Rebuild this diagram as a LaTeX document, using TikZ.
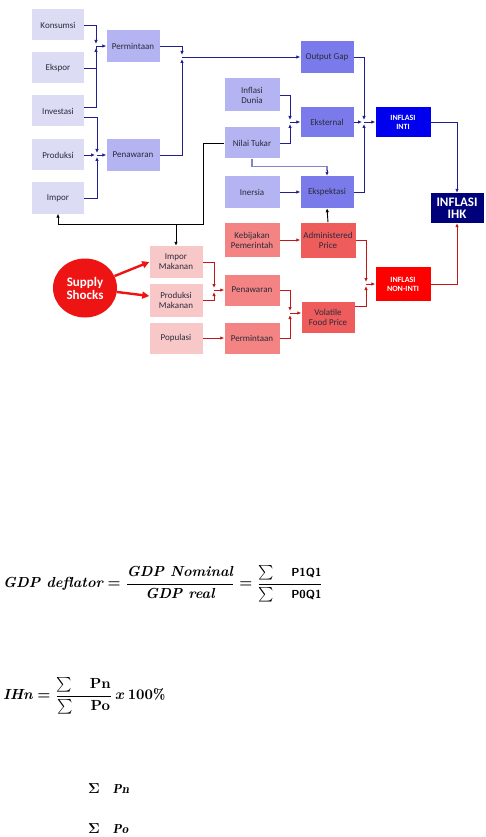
\documentclass[tikz,border=0pt]{standalone}
\usepackage{fontspec}
\usepackage{amsmath}
\usepackage{graphicx}
\newfontfamily\carlito{Carlito}
\usetikzlibrary{arrows.meta,shapes.geometric,calc}
\definecolor{lightlav}{HTML}{DCDCF5}
\definecolor{midlav}{HTML}{B4B4F2}
\definecolor{darklav}{HTML}{7A7AEA}
\definecolor{intiblue}{HTML}{0000EE}
\definecolor{ihknavy}{HTML}{00007A}
\definecolor{pinkl}{HTML}{F8C8C8}
\definecolor{salmon}{HTML}{F48484}
\definecolor{redmid}{HTML}{EE5C5C}
\definecolor{redfull}{HTML}{FF0000}
\definecolor{ssred}{HTML}{EE1414}
\definecolor{navyline}{HTML}{20208C}
\definecolor{redline}{HTML}{C01818}
\definecolor{grayline}{HTML}{8484C8}
\definecolor{boxtext}{HTML}{2A2A3A}
\tikzset{
  box/.style={draw=none, minimum width=53pt, minimum height=32pt, inner sep=1pt,
    font=\carlito\fontsize{9}{10}\selectfont, align=center, text=boxtext},
  lbox/.style={box, fill=lightlav, minimum width=52pt, minimum height=31pt},
  mbox/.style={box, fill=midlav},
  dbox/.style={box, fill=darklav},
  pbox/.style={box, fill=pinkl},
  sbox/.style={box, fill=salmon},
  rbox/.style={box, fill=redmid},
  bl/.style={draw=navyline, line width=0.9pt},
  bla/.style={bl, -{Latex[length=4pt,width=3.5pt]}},
  blj/.style={bla, shorten >=2pt},
  rl/.style={draw=redline, line width=0.9pt},
  rla/.style={rl, -{Latex[length=4pt,width=3.5pt]}},
  rlj/.style={rla, shorten >=2pt},
  bk/.style={draw=black, line width=0.9pt},
  bka/.style={bk, -{Latex[length=4pt,width=3.5pt]}},
}
\begin{document}
\begin{tikzpicture}[x=1pt,y=-1pt]
\fill[white] (0,0) rectangle (486,837);
\useasboundingbox (0,0) rectangle (486,837);

% left column
\node[lbox] (kons) at (58,25) {Konsumsi};
\node[lbox] (eksp) at (58,68) {Ekspor};
\node[lbox] (inv) at (58,111) {Investasi};
\node[lbox] (prod) at (58,155) {Produksi};
\node[lbox] (imp) at (58,198) {Impor};
\node[mbox] (perm) at (133,46) {Permintaan};
\node[mbox] (pena) at (133,155) {Penawaran};
% middle
\node[dbox] (og) at (327,57) {Output Gap};
\node[mbox, minimum width=55pt, minimum height=33pt] (idun) at (252,95) {Inflasi\\Dunia};
\node[mbox, minimum width=55pt, minimum height=31pt] (nt) at (252,143) {Nilai Tukar};
\node[mbox, minimum width=55pt] (iner) at (252,192) {Inersia};
\node[dbox, minimum height=30pt] (ekst) at (327,122) {Eksternal};
\node[dbox] (ekpk) at (327,192) {Ekspektasi};
\node[box, fill=intiblue, text=white, minimum width=55pt, minimum height=30pt,
  font=\carlito\bfseries\fontsize{8}{9}\selectfont] (inti) at (403,122) {INFLASI\\INTI};
\node[box, fill=ihknavy, text=white, minimum width=53pt, minimum height=30pt,
  font=\carlito\bfseries\fontsize{13}{12}\selectfont] (ihk) at (457,208) {INFLASI\\IHK};
% lower part
\node[ellipse, fill=ssred, text=white, minimum width=64pt, minimum height=59pt, inner sep=0pt,
  align=center, font=\carlito\bfseries\fontsize{13}{13}\selectfont] (ss) at (85,288) {Supply\\Shocks};
\node[pbox] (impm) at (176,262) {Impor\\Makanan};
\node[pbox, minimum height=33pt] (prodm) at (176,300) {Produksi\\Makanan};
\node[pbox, minimum height=31pt] (pop) at (176,338) {Populasi};
\node[sbox, minimum width=55pt, minimum height=34pt] (keb) at (252,240) {Kebijakan\\Pemerintah};
\node[sbox, minimum width=55pt, minimum height=31pt] (penr) at (252,290) {Penawaran};
\node[sbox, minimum width=55pt, minimum height=31pt] (permr) at (252,338) {Permintaan};
\node[rbox, minimum width=55pt, minimum height=35pt] (adm) at (328,240) {Administered\\Price};
\node[rbox, minimum height=31pt] (vol) at (328,317) {Volatile\\Food Price};
\node[box, fill=redfull, text=white, minimum width=55pt, minimum height=34pt,
  font=\carlito\bfseries\fontsize{8}{9}\selectfont] (nonint) at (403,284) {INFLASI\\NON-INTI};

% junction coordinates
\coordinate (j1) at (96,46);
\coordinate (j2) at (97,155);
\coordinate (j3) at (182,57);
\coordinate (j4) at (290,122);
\coordinate (j5) at (364,122);
\coordinate (j6) at (214,290);
\coordinate (j7) at (290,313);
\coordinate (j8) at (366,284);
\coordinate (k1) at (203,224);

% blue connectors
\draw[blj] (kons.east) -| (j1);
\draw[blj] (eksp.east) -| (j1);
\draw[bl] ([yshift=4pt]inv.east) -| (j1);
\draw[bla] (j1) -- (perm.west);
\draw[blj] ([yshift=-6pt]inv.east) -| (j2);
\draw[blj] (prod.east) -- (j2);
\draw[blj] (imp.east) -| (j2);
\draw[bla] (j2) -- (pena.west);
\draw[blj] (perm.east) -| (j3);
\draw[blj] (pena.east) -| (j3);
\draw[bla] (j3) -- (og.west);
\draw[blj] (idun.east) -| (j4);
\draw[blj] (nt.east) -| (j4);
\draw[bla] (j4) -- (ekst.west);
\draw[draw=grayline, line width=1.4pt] (nt.south) -- ++(0,8) -| ([yshift=5pt]ekpk.north);
\draw[bla] ([yshift=6pt]ekpk.north) -- (ekpk.north);
\draw[bla] (iner.east) -- (ekpk.west);
\draw[blj] (og.east) -| (j5);
\draw[blj] (ekst.east) -- (j5);
\draw[blj] (ekpk.east) -| (j5);
\draw[bla] (j5) -- (inti.west);
\draw[bla] (inti.east) -| (ihk.north);

% black connectors
\draw[bka] (nt.west) -| (k1) -| (imp.south);
\draw[bka] (impm.north |- k1) -- (impm.north);
\draw[bka] (adm.north) -- (ekpk.south);

% supply shocks arrows
\draw[draw=ssred, line width=2.4pt, -{Triangle[length=7pt,width=7pt]}] (ss) -- (impm.west);
\draw[draw=ssred, line width=2.4pt, -{Triangle[length=7pt,width=7pt]}] (ss) -- ([yshift=4pt]prodm.west);

% red connectors
\draw[rlj] (impm.east) -| (j6);
\draw[rlj] (prodm.east) -| (j6);
\draw[rla] (j6) -- (penr.west);
\draw[rla] (pop.east) -- (permr.west);
\draw[rla] (keb.east) -- (adm.west);
\draw[rlj] (penr.east) -| (j7);
\draw[rlj] (permr.east) -| (j7);
\draw[rla] (j7) -- (vol.west |- j7);
\draw[rlj] (adm.east) -| (j8);
\draw[rlj] ([yshift=11pt]vol.east) -| (j8);
\draw[rla] (j8) -- (nonint.west);
\draw[rla] (nonint.east) -| (ihk.south);

% formulas
\boldmath
\node[anchor=west, inner sep=0pt] (f1) at (3,584) {\resizebox{320pt}{!}{%
  $\textit{\textbf{GDP deflator}} = \dfrac{\textit{\textbf{GDP Nominal}}}{\textit{\textbf{GDP real}}}
   = \dfrac{\sum\quad \textsf{\textbf{\footnotesize P1Q1}}}{\sum\quad \textsf{\textbf{\footnotesize P0Q1}}}$}};
\node[anchor=west, inner sep=0pt] (f2) at (3,696) {\resizebox{162pt}{!}{%
  $\textit{\textbf{IHn}} = \dfrac{\sum\quad \mathbf{Pn}}{\sum\quad \mathbf{Po}}\,x\,\mathbf{100\%}$}};
\node[anchor=west, inner sep=0pt, font=\fontsize{13}{14}\selectfont] (f3) at (88,789)
  {{\fontsize{15}{15}\selectfont$\mathbf{\Sigma}$}\quad $\mathit{Pn}$};
\node[anchor=west, inner sep=0pt, font=\fontsize{13}{14}\selectfont] (f4) at (88,829)
  {{\fontsize{15}{15}\selectfont$\mathbf{\Sigma}$}\quad $\mathit{Po}$};
\end{tikzpicture}
\end{document}
